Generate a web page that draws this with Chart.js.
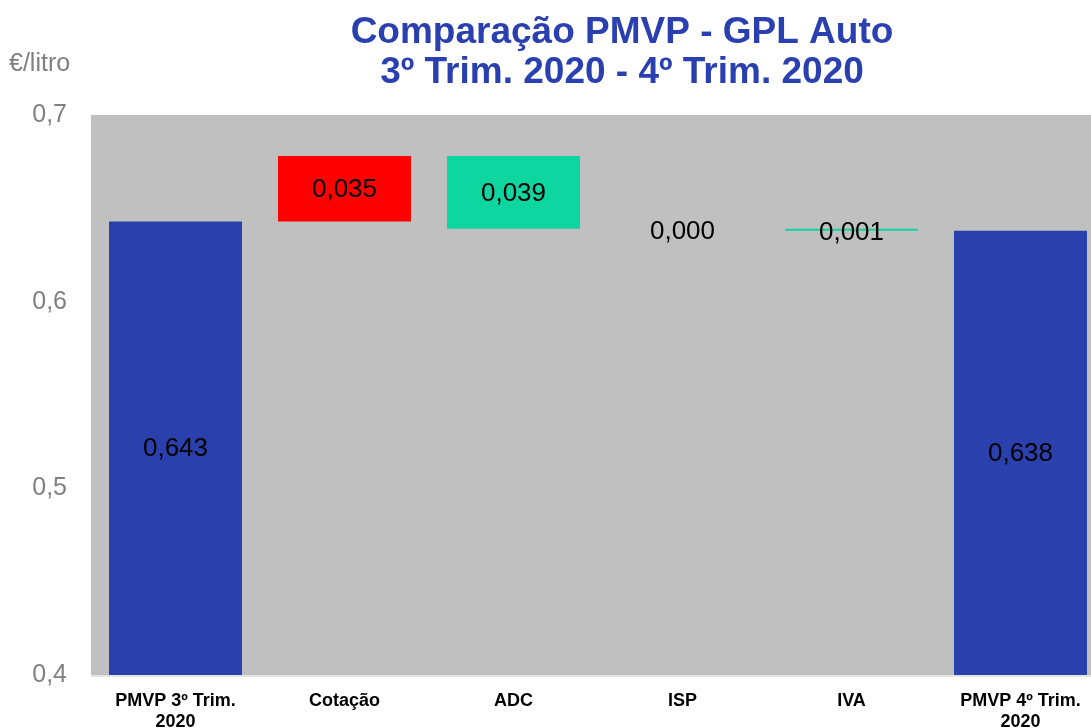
<!DOCTYPE html>
<html>
<head>
<meta charset="utf-8">
<script src="https://cdn.jsdelivr.net/npm/chart.js@4/dist/chart.umd.min.js"></script>
<style>
html,body{margin:0;padding:0;background:#fff;overflow:hidden;}
#wrap{width:1091px;height:728px;position:relative;overflow:hidden;}
#c{position:absolute;left:0;top:0;}
</style>
</head>
<body>
<div id="wrap"><canvas id="c" width="1105" height="728"></canvas></div>
<script>
const categories = [["PMVP 3º Trim.","2020"], "Cotação", "ADC", "ISP", "IVA", ["PMVP 4º Trim.","2020"]];
const startValue = 0.643;
const changes = [0.035, -0.039, 0.000, -0.001];
const endValue = 0.638;
const yTicks = [0.4, 0.5, 0.6, 0.7];
const titleLines = ["Comparação PMVP - GPL Auto", "3º Trim. 2020 - 4º Trim. 2020"];
const unitLabel = "€/litro";

const BLUE = '#2A40AD', RED = '#FF0000', GREEN = '#0DD6A0', BG = '#C0C0C0';

// build floating bars
const floating = [[0, startValue]];
const colors = [BLUE];
const labelsText = [startValue];
let cur = startValue;
changes.forEach(d => {
  const next = +(cur + d).toFixed(6);
  floating.push([cur, next]);
  colors.push(d > 0 ? RED : GREEN);
  labelsText.push(Math.abs(d));
  cur = next;
});
floating.push([0, endValue]);
colors.push(BLUE);
labelsText.push(endValue);

const fmt = v => v.toFixed(3).replace('.', ',');

const bgPlugin = {
  id: 'bg',
  beforeDraw(chart) {
    const {ctx, chartArea: a} = chart;
    ctx.save();
    ctx.fillStyle = BG;
    ctx.fillRect(a.left, a.top, a.right - a.left, a.bottom - a.top);
    ctx.fillStyle = '#E4E4E4';
    ctx.fillRect(a.left, a.bottom, a.right - a.left, 2);
    ctx.restore();
  },
  afterDraw(chart) {
    const {ctx} = chart;
    ctx.save();
    ctx.fillStyle = '#2B40B0';
    ctx.font = 'bold 37px "Liberation Sans", Arial, sans-serif';
    ctx.textAlign = 'center';
    ctx.textBaseline = 'middle';
    ctx.fillText(titleLines[0], 622, 33);
    ctx.fillText(titleLines[1], 622, 73);
    ctx.fillStyle = '#808080';
    ctx.font = '25px "Liberation Sans", Arial, sans-serif';
    ctx.textAlign = 'left';
    ctx.fillText(unitLabel, 9, 64);
    ctx.restore();
  }
};

const labelPlugin = {
  id: 'vals',
  afterDatasetsDraw(chart) {
    const {ctx, chartArea: a} = chart;
    const meta = chart.getDatasetMeta(0);
    ctx.save();
    ctx.fillStyle = '#000';
    ctx.font = '26px "Liberation Sans", Arial, sans-serif';
    ctx.textAlign = 'center';
    ctx.textBaseline = 'middle';
    meta.data.forEach((el, i) => {
      const top = Math.max(Math.min(el.y, el.base), a.top);
      const bot = Math.min(Math.max(el.y, el.base), a.bottom);
      const extra = (bot - top) < 4 ? 3 : 1;
      ctx.fillText(fmt(labelsText[i]), el.x, (top + bot) / 2 + extra);
    });
    ctx.restore();
  }
};

new Chart(document.getElementById('c'), {
  type: 'bar',
  data: {
    labels: categories,
    datasets: [{
      data: floating,
      backgroundColor: colors,
      borderWidth: 0,
      borderSkipped: false,
      categoryPercentage: 1,
      barPercentage: 0.787,
      minBarLength: 0
    }]
  },
  options: {
    responsive: false,
    animation: false,
    layout: {padding: {top: 115, right: 0, left: 0, bottom: 0}},
    plugins: {legend: {display: false}, tooltip: {enabled: false}, title: {display: false}},
    scales: {
      x: {
        grid: {display: false, drawTicks: false},
        border: {display: false},
        ticks: {
          color: '#000',
          font: {family: '"Liberation Sans", Arial, sans-serif', size: 18, weight: 'bold', lineHeight: 1.15},
          padding: 16,
          maxRotation: 0,
          autoSkip: false
        },
        afterFit(s) { s.height = 53; }
      },
      y: {
        min: 0.4, max: 0.7,
        grid: {display: false, drawTicks: false},
        border: {display: false},
        afterBuildTicks(s) { s.ticks = yTicks.map(v => ({value: v})); },
        ticks: {
          color: '#808080',
          font: {family: '"Liberation Sans", Arial, sans-serif', size: 25},
          padding: 24,
          callback: v => String(v).replace('.', ',')
        },
        afterFit(s) { s.width = 91; }
      }
    }
  },
  plugins: [bgPlugin, labelPlugin]
});
</script>
</body>
</html>
